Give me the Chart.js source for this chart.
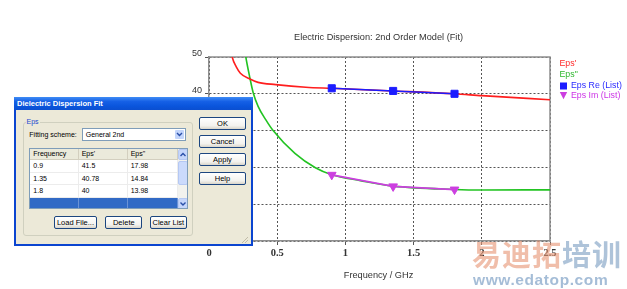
<!DOCTYPE html>
<html><head><meta charset="utf-8">
<script src="https://cdn.jsdelivr.net/npm/chart.js@4.4.0/dist/chart.umd.min.js"></script>
<style>
html,body{margin:0;padding:0;background:#fff;}
#wrap{position:relative;width:627px;height:289px;overflow:hidden;}
#c{position:absolute;left:0;top:0;}
.dlg{position:absolute;left:14px;top:97px;width:239px;height:149px;background:#0b45d0;font-family:"Liberation Sans",Arial,sans-serif;font-size:7px;color:#000;}
.dlg div{position:absolute;box-sizing:border-box;}
.tb{left:0;top:0;width:239px;height:13px;background:linear-gradient(#3f8cf5,#1560e6 35%,#0a55dc 70%,#0b4fd0);color:#fff;font-weight:bold;font-size:7.5px;line-height:13px;padding-left:3px;}
.body{left:2px;top:13px;width:235px;height:134px;background:#ece9d8;}
.grp{left:9px;top:24.5px;width:170px;height:114px;border:1px solid #d0d0bf;border-radius:3px;}
.lbl{white-space:nowrap;line-height:9px;}
.combo{left:67.7px;top:30.7px;width:104.3px;height:13px;border:1px solid #7f9db9;background:#fff;line-height:11px;padding-left:3px;}
.ddb{right:1px;top:1px;width:9px;height:9px;background:#c3d5fb;border-radius:1px;}
.tbl{left:15.3px;top:50.7px;width:158.4px;height:61.6px;border:1px solid #7f9db9;background:#fff;overflow:hidden;}
.hd{height:11.6px;background:#ebeadb;border-right:1px solid #d3cfbf;border-bottom:1px solid #d3cfbf;line-height:10.6px;padding-left:3px;}
.cell{height:12.6px;border-right:1px solid #ececec;border-bottom:1px solid #ececec;line-height:12px;padding-left:3px;}
.sel{background:#316ac5;border-right:1px solid #6b93d6;}
.sb{background:#f2f2ee;}
.sbb{background:#c6d6fb;border:1px solid #b5c8f3;border-radius:2px;}
.btn{border:1px solid #1c4680;border-radius:2px;background:linear-gradient(#ffffff,#f3f2ee 70%,#d9d5ca);text-align:center;font-size:7.5px;line-height:11px;}
.wm{position:absolute;left:472px;top:236px;font-family:"Noto Sans CJK SC",sans-serif;font-weight:bold;font-size:29px;line-height:34px;white-space:nowrap;letter-spacing:1px;}
.wm2{position:absolute;left:473px;top:272px;font-family:"Liberation Sans",Arial,sans-serif;font-weight:bold;font-size:15.5px;line-height:16px;color:rgba(110,148,190,0.62);letter-spacing:0.6px;white-space:nowrap;}
</style></head>
<body><div id="wrap">
<canvas id="c" width="627" height="289"></canvas>
<div class="dlg" id="dlg">
 <div class="tb">Dielectric Dispersion Fit</div>
 <div class="body"></div>
 <div class="grp"></div>
 <div class="lbl" style="left:11.5px;top:19.5px;background:#ece9d8;color:#1848d0;padding:0 1px;">Eps</div>
 <div class="lbl" style="left:15.3px;top:32.5px;">Fitting scheme:</div>
 <div class="combo">General 2nd<div class="ddb"><svg width="9" height="9" style="position:absolute;left:0;top:0"><polyline points="2,3 4.5,5.5 7,3" fill="none" stroke="#2a4fa8" stroke-width="1.4"/></svg></div></div>
 <div class="tbl" id="tbl"></div>
 <div class="btn" style="left:40.3px;top:119px;width:42.4px;height:13.3px;">Load File...</div>
 <div class="btn" style="left:91.3px;top:119px;width:37px;height:13.3px;">Delete</div>
 <div class="btn" style="left:136px;top:119px;width:36.7px;height:13.3px;">Clear List</div>
 <div class="btn" style="left:185.3px;top:20.3px;width:46.4px;height:13px;">OK</div>
 <div class="btn" style="left:185.3px;top:38.3px;width:46.4px;height:13px;">Cancel</div>
 <div class="btn" style="left:185.3px;top:56.3px;width:46.4px;height:13px;">Apply</div>
 <div class="btn" style="left:185.3px;top:74.7px;width:46.4px;height:13px;">Help</div>
 <div style="left:226px;top:138px;width:9px;height:9px;"><svg width="9" height="9"><path d="M8,2 L2,8 M8,5 L5,8" stroke="#c0bba8" stroke-width="1"/></svg></div>
</div>
<div class="wm"><span style="color:rgba(230,150,118,0.62)">易迪拓</span><span style="color:rgba(120,155,192,0.6)">培训</span></div>
<div class="wm2">www.edatop.com</div>
</div>
<script>
// ---- data ----
const chartTitle = "Electric Dispersion: 2nd Order Model (Fit)";
const xAxisTitle = "Frequency / GHz";
const seriesNames = ["Eps'", 'Eps"', "Eps Re (List)", "Eps Im (List)"];
const tableHeaders = ["Frequency", "Eps'", 'Eps"'];
const xMin = 0, xMax = 2.5, xStep = 0.5;
const yMin = 0, yMax = 50, yStep = 10;
// fitted model curves
const fitFreqRe = [0.16, 0.17, 0.20, 0.23, 0.30, 0.36, 0.49, 0.71, 0.90, 1.35, 1.80, 2.00, 2.50];
const fitEpsRe  = [52.0, 50.0, 47.3, 45.6, 44.0, 43.1, 42.5, 41.8, 41.5, 40.78, 40.0, 39.5, 38.4];
const fitFreqIm = [0.262, 0.27, 0.30, 0.324, 0.36, 0.417, 0.47, 0.63, 0.78, 0.90, 1.11, 1.35, 1.80, 2.00, 2.50];
const fitEpsIm  = [52.0, 50.0, 44.3, 40.3, 36.6, 32.9, 30.0, 23.8, 19.9, 18.0, 16.4, 14.9, 14.0, 13.85, 13.9];
// measured list points
const listFreq  = [0.9, 1.35, 1.8];
const listEpsRe = [41.5, 40.78, 40];
const listEpsIm = [17.98, 14.84, 13.98];

// ---- dialog table built from list arrays ----
(function(){
  const t = document.getElementById('tbl');
  const colX = [0, 48.4, 97.4], colW = [48.4, 49, 50];
  let h = '';
  tableHeaders.forEach((s,i)=>{ h += `<div class="hd" style="left:${colX[i]}px;top:0;width:${colW[i]}px">${s}</div>`; });
  const rowH = 12.6, top0 = 11.6;
  listFreq.forEach((f,r)=>{
    const vals = [f, listEpsRe[r], listEpsIm[r]];
    vals.forEach((v,i)=>{ h += `<div class="cell" style="left:${colX[i]}px;top:${top0+r*rowH}px;width:${colW[i]}px">${v}</div>`; });
  });
  const selTop = top0 + listFreq.length*rowH;
  colX.forEach((x,i)=>{ h += `<div class="cell sel" style="left:${x}px;top:${selTop}px;width:${colW[i]}px;height:13px"></div>`; });
  h += `<div class="sb" style="left:147.4px;top:0;width:10px;height:60px"></div>`;
  h += `<div class="sbb" style="left:147.4px;top:0;width:10px;height:11px"><svg width="8" height="9" style="position:absolute;left:0;top:0"><polyline points="1.5,6 4,3.5 6.5,6" fill="none" stroke="#2a4fa8" stroke-width="1.4"/></svg></div>`;
  h += `<div class="sbb" style="left:147.4px;top:12px;width:10px;height:24px;background:#cbdafc"></div>`;
  h += `<div class="sbb" style="left:147.4px;top:49px;width:10px;height:11px"><svg width="8" height="9" style="position:absolute;left:0;top:0"><polyline points="1.5,3.5 4,6 6.5,3.5" fill="none" stroke="#2a4fa8" stroke-width="1.4"/></svg></div>`;
  t.innerHTML = h;
})();

const colors = ['#ff1e1e', '#22c322', '#1c1cff', '#cc3fe0'];
const textColors = ['#ff2a2a', '#2fb82f', '#2a2aff', '#cc33e6'];

const decorPlugin = {
  id: 'decor',
  beforeDatasetsDraw(chart){
    const {ctx, chartArea:a} = chart;
    ctx.save();
    ctx.strokeStyle = '#8e8e8e'; ctx.lineWidth = 1.5;
    ctx.beginPath();
    ctx.moveTo(a.left, a.top); ctx.lineTo(a.right, a.top); ctx.lineTo(a.right, a.bottom);
    ctx.stroke();
    ctx.restore();
  },
  afterDraw(chart){
    const {ctx, chartArea:a} = chart;
    ctx.save();
    ctx.fillStyle = '#333';
    ctx.textAlign = 'center'; ctx.textBaseline = 'middle';
    ctx.font = '9.2px "Liberation Sans", Arial, sans-serif';
    ctx.fillText(chartTitle, 378.5, 37);
    ctx.fillText(xAxisTitle, 378.5, 275.5);
    // legend
    ctx.textAlign = 'left';
    ctx.font = '8.8px "Liberation Sans", Arial, sans-serif';
    const lx = a.right + 9.5;
    const ys = [63.7, 75, 86, 95.5];
    chart.data.datasets.forEach((ds, i)=>{
      ctx.fillStyle = textColors[i];
      const tx = i < 2 ? lx : lx + 11.5;
      ctx.fillText(seriesNames[i], tx, ys[i]);
      if (i === 2) { ctx.fillStyle = colors[2]; ctx.fillRect(lx + 0.5, ys[i]-3.5, 7, 7); }
      if (i === 3) {
        ctx.fillStyle = colors[3];
        ctx.beginPath(); ctx.moveTo(lx + 0.3, ys[i]-3.5); ctx.lineTo(lx + 7.7, ys[i]-3.5); ctx.lineTo(lx + 4, ys[i]+3.8); ctx.closePath(); ctx.fill();
      }
    });
    ctx.restore();
  }
};

const toXY = (xs, ys) => xs.map((x,i)=>({x, y: ys[i]}));

new Chart(document.getElementById('c'), {
  type: 'scatter',
  data: { datasets: [
    { label: seriesNames[0], data: toXY(fitFreqRe, fitEpsRe), showLine: true, borderColor: colors[0], borderWidth: 1.6, pointRadius: 0, cubicInterpolationMode: 'monotone', order: 2 },
    { label: seriesNames[1], data: toXY(fitFreqIm, fitEpsIm), showLine: true, borderColor: colors[1], borderWidth: 1.6, pointRadius: 0, cubicInterpolationMode: 'monotone', order: 2 },
    { label: seriesNames[2], data: toXY(listFreq, listEpsRe), showLine: true, borderColor: colors[2], borderWidth: 1.6, backgroundColor: colors[2], pointStyle: 'rect', pointRadius: 5, pointBorderWidth: 1, pointBorderColor: colors[2], pointBackgroundColor: colors[2], order: 1 },
    { label: seriesNames[3], data: toXY(listFreq, listEpsIm), showLine: true, borderColor: colors[3], borderWidth: 1.8, backgroundColor: colors[3], pointStyle: 'triangle', rotation: 180, pointRadius: 5, pointBorderWidth: 1, pointBorderColor: colors[3], pointBackgroundColor: colors[3], order: 1 }
  ]},
  options: {
    responsive: false, animation: false,
    layout: { padding: { top: 57, right: 77, left: 0, bottom: 0 } },
    plugins: { legend: { display: false }, tooltip: { enabled: false }, title: { display: false } },
    scales: {
      x: {
        type: 'linear', min: xMin, max: xMax,
        ticks: { stepSize: xStep, color: '#333', font: { family: '"Liberation Serif", serif', size: 10.5, weight: 'bold' }, padding: 2, maxRotation: 0,
                 callback: (v) => String(Math.round(v * 100) / 100) },
        grid: { color: '#555', lineWidth: 1, tickLength: 4 },
        border: { display: true, color: '#8e8e8e', width: 1.5, dash: [2, 2] },
        afterFit(s){ s.height = 48; }
      },
      y: {
        type: 'linear', min: yMin, max: yMax,
        ticks: { stepSize: yStep, color: '#333', font: { family: '"Liberation Sans", Arial, sans-serif', size: 9 }, padding: 3, labelOffset: -3 },
        grid: { color: '#555', lineWidth: 1, tickLength: 4 },
        border: { display: true, color: '#8e8e8e', width: 1.5, dash: [2, 2] },
        afterFit(s){ s.width = 209; }
      }
    }
  },
  plugins: [decorPlugin]
});
</script>
</body></html>
